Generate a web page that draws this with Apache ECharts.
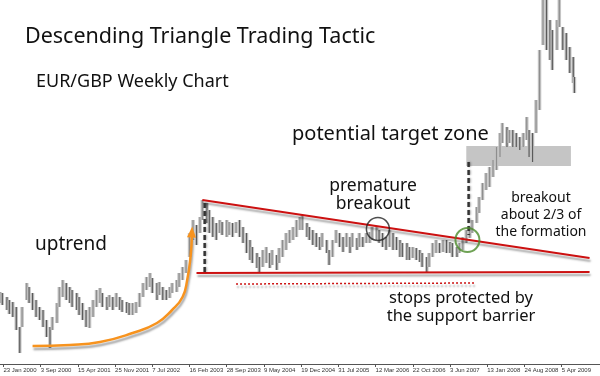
<!DOCTYPE html>
<html>
<head>
<meta charset="utf-8">
<script src="https://cdn.jsdelivr.net/npm/echarts@6/dist/echarts.min.js"></script>
<style>
  html, body { margin: 0; padding: 0; background: #fff; }
  #chart { width: 600px; height: 376px; }
</style>
</head>
<body>
<div id="chart"></div>
<script>
// week offsets from 23 Jan 2000
const tickWeeks = [0, 32, 64, 96, 128, 160, 192, 224, 256, 288, 320, 352, 384, 416, 448, 480]
const tickLabels = [
  '23 Jan 2000', '3 Sep 2000', '15 Apr 2001', '25 Nov 2001', '7 Jul 2002', '16 Feb 2003',
  '28 Sep 2003', '9 May 2004', '19 Dec 2004', '31 Jul 2005', '12 Mar 2006', '22 Oct 2006',
  '3 Jun 2007', '13 Jan 2008', '24 Aug 2008', '5 Apr 2009',
]

// EUR/GBP weekly bars
const weeks = [
  -3, -1, 3, 5, 8, 11, 14, 16, 20, 22, 25, 28, 31, 34, 37, 40, 42, 46, 48, 51,
  54, 57, 59, 63, 65, 68, 71, 74, 77, 80, 83, 85, 89, 91, 94, 97, 100, 102, 106, 108,
  111, 114, 117, 120, 123, 126, 128, 132, 134, 137, 140, 143, 145, 149, 151, 154, 157, 160, 163, 166,
  169, 171, 175, 177, 180, 183, 186, 188, 192, 194, 197, 200, 203, 206, 209, 212, 214, 218, 220, 223,
  226, 229, 231, 235, 237, 240, 243, 246, 249, 252, 255, 257, 261, 263, 266, 269, 272, 274, 278, 280,
  283, 286, 289, 292, 295, 298, 300, 304, 306, 309, 312, 315, 317, 321, 323, 326, 329, 332, 335, 338,
  341, 343, 347, 349, 352, 355, 358, 360, 364, 366, 369, 372, 375, 378, 381, 384, 386, 390, 392, 395,
  398, 401, 403, 407, 409, 412, 415, 418, 421, 424, 427, 429, 433, 435, 438, 441, 444, 447, 450, 452,
  455, 458, 461, 464, 467, 470, 472, 476, 478, 481, 484, 487, 490, 491,
]
const highs = [
  0.632, 0.631, 0.627, 0.624, 0.622, 0.617, 0.597, 0.617, 0.641, 0.637, 0.631, 0.624, 0.617, 0.614, 0.604, 0.597, 0.607, 0.621, 0.637, 0.644,
  0.641, 0.637, 0.634, 0.631, 0.627, 0.621, 0.614, 0.617, 0.624, 0.634, 0.636, 0.631, 0.627, 0.629, 0.627, 0.631, 0.627, 0.624, 0.622, 0.621,
  0.621, 0.622, 0.631, 0.641, 0.647, 0.651, 0.646, 0.641, 0.642, 0.637, 0.634, 0.637, 0.641, 0.644, 0.651, 0.657, 0.664, 0.691, 0.704, 0.699,
  0.707, 0.724, 0.721, 0.714, 0.707, 0.701, 0.704, 0.702, 0.704, 0.702, 0.701, 0.702, 0.704, 0.697, 0.691, 0.684, 0.677, 0.671, 0.667, 0.674,
  0.677, 0.671, 0.674, 0.669, 0.676, 0.684, 0.691, 0.694, 0.697, 0.704, 0.707, 0.709, 0.701, 0.697, 0.694, 0.691, 0.687, 0.691, 0.684, 0.674,
  0.684, 0.694, 0.691, 0.687, 0.691, 0.687, 0.691, 0.686, 0.691, 0.687, 0.691, 0.692, 0.697, 0.697, 0.694, 0.691, 0.687, 0.694, 0.691, 0.687,
  0.684, 0.681, 0.681, 0.677, 0.677, 0.676, 0.674, 0.671, 0.667, 0.671, 0.681, 0.684, 0.681, 0.684, 0.684, 0.682, 0.681, 0.677, 0.681, 0.687,
  0.694, 0.697, 0.704, 0.717, 0.727, 0.741, 0.751, 0.757, 0.764, 0.777, 0.791, 0.801, 0.797, 0.794, 0.794, 0.791, 0.787, 0.791, 0.807, 0.794,
  0.791, 0.824, 0.874, 0.944, 0.934, 0.904, 0.894, 0.904, 0.934, 0.897, 0.891, 0.877, 0.867, 0.847,
]
const lows = [
  0.621, 0.619, 0.614, 0.610, 0.607, 0.594, 0.571, 0.597, 0.624, 0.621, 0.614, 0.607, 0.604, 0.597, 0.587, 0.576, 0.594, 0.601, 0.617, 0.627,
  0.624, 0.621, 0.617, 0.614, 0.609, 0.604, 0.597, 0.596, 0.607, 0.617, 0.621, 0.617, 0.614, 0.617, 0.614, 0.617, 0.614, 0.612, 0.611, 0.609,
  0.609, 0.611, 0.617, 0.627, 0.634, 0.637, 0.631, 0.624, 0.629, 0.624, 0.624, 0.626, 0.631, 0.632, 0.637, 0.644, 0.651, 0.667, 0.684, 0.679,
  0.691, 0.704, 0.701, 0.691, 0.687, 0.684, 0.691, 0.689, 0.687, 0.689, 0.687, 0.691, 0.687, 0.681, 0.671, 0.664, 0.661, 0.656, 0.652, 0.657,
  0.661, 0.656, 0.659, 0.654, 0.661, 0.667, 0.674, 0.681, 0.684, 0.687, 0.694, 0.694, 0.687, 0.684, 0.679, 0.677, 0.674, 0.677, 0.671, 0.659,
  0.667, 0.681, 0.677, 0.672, 0.677, 0.671, 0.677, 0.674, 0.677, 0.677, 0.681, 0.681, 0.684, 0.684, 0.681, 0.677, 0.674, 0.677, 0.674, 0.674,
  0.667, 0.667, 0.664, 0.664, 0.666, 0.664, 0.662, 0.657, 0.652, 0.657, 0.667, 0.671, 0.671, 0.672, 0.671, 0.671, 0.667, 0.667, 0.671, 0.674,
  0.681, 0.686, 0.691, 0.701, 0.711, 0.724, 0.734, 0.737, 0.747, 0.754, 0.767, 0.781, 0.777, 0.781, 0.777, 0.777, 0.774, 0.777, 0.784, 0.767,
  0.762, 0.791, 0.814, 0.879, 0.874, 0.864, 0.854, 0.874, 0.897, 0.874, 0.864, 0.851, 0.841, 0.831,
]

// annotation anchors [week, price]
const upperLine = [[171, 0.724], [504, 0.666]]
const supportLine = [[166, 0.651], [504, 0.652]]
const stopsLine = [[200, 0.640], [405, 0.641]]
const firstDrop = [[173, 0.721], [173, 0.652]]
const targetDrop = [[400, 0.762], [400, 0.689]]
const targetZone = [[398, 0.778], [488, 0.758]]
const uptrendCurve = [
  [25, 0.578], [57, 0.579], [83, 0.582], [111, 0.591], [132, 0.601],
  [145, 0.614], [154, 0.627], [158, 0.644], [161, 0.669], [162, 0.688],
]
const prematureSpot = [322, 0.695]
const breakoutSpot = [399, 0.684]

const colors = {
  body: '#c4c4c4',
  up: '#8e8e8e',
  down: '#5a5a5a',
  red: '#cc1111',
  orange: '#f7931e',
  dash: '#333333',
  green: '#4b8b2b',
  text: '#111111',
}

const shadow = { shadowColor: 'rgba(0,0,0,0.35)', shadowBlur: 2, shadowOffsetX: 1, shadowOffsetY: 3 }
const font = '"Noto Sans"'

const bars = weeks.map((w, i) => [w, lows[i], highs[i]])

// light body across the sample plus a darker centre stroke, like the weekly bar texture
function barItem(params, api) {
  const w = api.value(0)
  const lo = api.coord([w, api.value(1)])
  const hi = api.coord([w, api.value(2)])
  const i = params.dataIndex
  const prevMid = i > 0 ? (highs[i - 1] + lows[i - 1]) / 2 : 0
  const mid = (highs[i] + lows[i]) / 2
  const h = Math.max(1, lo[1] - hi[1])
  return {
    type: 'group',
    children: [
      { type: 'rect', shape: { x: hi[0] - 1.75, y: hi[1], width: 3.5, height: h }, style: { fill: colors.body } },
      { type: 'rect', shape: { x: hi[0] - 0.6, y: hi[1], width: 1.2, height: h }, style: { fill: mid >= prevMid ? colors.up : colors.down } },
    ],
  }
}

function lineSeries(data, style, extra) {
  return Object.assign({
    type: 'line',
    data,
    symbol: 'none',
    silent: true,
    animation: false,
    lineStyle: Object.assign({}, shadow, style),
    z: 5,
  }, extra || {})
}

function label(text, x, y, size, align) {
  return {
    type: 'text',
    x,
    y,
    style: {
      text,
      font: size + 'px ' + font,
      fill: colors.text,
      textAlign: align || 'left',
      textVerticalAlign: 'middle',
    },
  }
}

const chart = echarts.init(document.getElementById('chart'))

chart.setOption({
  animation: false,
  backgroundColor: '#fff',
  grid: { left: 0, right: 0, top: 0, bottom: 12 },
  xAxis: {
    type: 'value',
    min: -3,
    max: 513,
    splitLine: { show: false },
    axisLine: { show: true, lineStyle: { color: '#555', width: 1 } },
    axisTick: { show: true, customValues: tickWeeks, length: 3, lineStyle: { color: '#555' } },
    axisLabel: {
      customValues: tickWeeks,
      formatter: (v) => tickLabels[tickWeeks.indexOf(v)],
      align: 'left',
      margin: 3,
      color: '#333',
      fontSize: 6,
      fontFamily: '"Liberation Sans"',
      showMinLabel: true,
      showMaxLabel: true,
      hideOverlap: false,
    },
  },
  yAxis: {
    type: 'value',
    min: 0.56,
    max: 0.924,
    show: false,
  },
  series: [
    {
      type: 'custom',
      data: bars,
      renderItem: barItem,
      encode: { x: 0, y: [1, 2] },
      clip: true,
      z: 2,
      markArea: {
        silent: true,
        itemStyle: { color: 'rgba(150,150,150,0.55)' },
        data: [[{ coord: targetZone[0] }, { coord: targetZone[1] }]],
      },
    },
    lineSeries(upperLine, { color: colors.red, width: 2 }),
    lineSeries(supportLine, { color: colors.red, width: 2 }),
    lineSeries(stopsLine, { color: colors.red, width: 1.5, type: [2, 2] }),
    lineSeries(firstDrop, { color: colors.dash, width: 2.5, type: [5, 3], shadowOffsetY: 0 }),
    lineSeries(targetDrop, { color: colors.dash, width: 2.5, type: [5, 3], shadowOffsetY: 0 }),
    lineSeries(
      uptrendCurve.map((p, i) =>
        i === uptrendCurve.length - 1
          ? { value: p, symbol: 'triangle', symbolSize: [9, 11], symbolRotate: -4, symbolOffset: [0, -4] }
          : { value: p, symbol: 'none' }
      ),
      { color: colors.orange, width: 2.5 },
      { smooth: 0.5, showSymbol: true, itemStyle: { color: colors.orange } }
    ),
    {
      type: 'scatter',
      silent: true,
      z: 6,
      data: [
        { value: prematureSpot, symbolSize: 23, itemStyle: { borderColor: '#222', borderWidth: 1.5 } },
        { value: breakoutSpot, symbolSize: 24, itemStyle: { borderColor: colors.green, borderWidth: 2 } },
      ],
      itemStyle: { color: 'rgba(0,0,0,0)' },
    },
  ],
  graphic: [
    label('Descending Triangle Trading Tactic', 25, 37, 21.5),
    label('EUR/GBP Weekly Chart', 36, 82, 18),
    label('potential target zone', 292, 134, 20),
    label('uptrend', 35, 245, 19),
    label('premature', 373, 186, 17.5, 'center'),
    label('breakout', 373, 204, 17.5, 'center'),
    label('breakout', 541, 198, 14, 'center'),
    label('about 2/3 of', 541, 215, 14, 'center'),
    label('the formation', 541, 232, 14, 'center'),
    label('stops protected by', 461, 298, 16.5, 'center'),
    label('the support barrier', 461, 316, 16.5, 'center'),
  ],
})
</script>
</body>
</html>
